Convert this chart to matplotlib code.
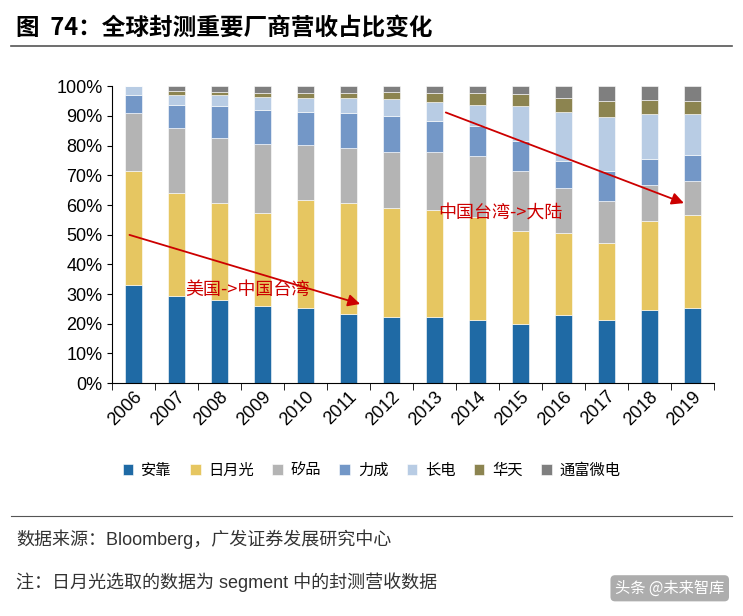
import matplotlib

matplotlib.use("Agg")
import matplotlib.pyplot as plt
from matplotlib.ticker import PercentFormatter
import numpy as np

plt.rcParams["font.family"] = ["Noto Sans CJK SC", "DejaVu Sans"]

YEARS = [str(y) for y in range(2006, 2020)]
COMPANIES = ["安靠", "日月光", "矽品", "力成", "长电", "华天", "通富微电"]
AMKOR = [32.9, 29.4, 28.1, 26.1, 25.3, 23.3, 22.4, 22.2, 21.3, 20.0, 23.0, 21.3, 24.7, 25.4]
ASE = [38.4, 34.6, 32.6, 31.2, 36.5, 37.4, 36.6, 36.2, 34.7, 31.1, 27.6, 25.9, 30.0, 31.2]
SPIL = [19.8, 22.0, 21.9, 23.3, 18.5, 18.5, 19.0, 19.6, 20.6, 20.2, 15.1, 14.0, 12.2, 11.6]
PTI = [5.9, 7.8, 10.7, 11.5, 11.0, 11.7, 11.9, 10.4, 9.9, 10.2, 9.0, 10.1, 8.7, 8.8]
JCET = [3.0, 3.4, 3.6, 4.3, 4.8, 5.2, 5.9, 6.2, 7.3, 11.8, 16.6, 18.3, 15.2, 13.6]
HUATIAN = [0, 1.1, 1.1, 1.4, 1.7, 1.7, 2.2, 3.2, 4.0, 4.2, 4.7, 5.3, 4.5, 4.5]
TFME = [0, 1.7, 2.0, 2.2, 2.2, 2.2, 2.0, 2.2, 2.2, 2.5, 4.0, 5.1, 4.7, 4.9]
COLORS = ["#1F6AA5", "#E6C661", "#B4B4B4", "#7397C7", "#B8CCE4", "#8C8450", "#7F7F7F"]

LATIN = ["Liberation Sans", "Noto Sans CJK SC"]

fig = plt.figure(figsize=(7.43, 6.16), dpi=100)
fig.text(0.022, 0.955, "图  74：全球封测重要厂商营收占比变化", fontsize=17, fontweight="bold", va="center")
fig.add_artist(plt.Line2D([0.015, 0.985], [0.925, 0.925], color="#555555", lw=1.2))
fig.add_artist(plt.Line2D([0.015, 0.985], [0.163, 0.163], color="#555555", lw=0.8))

ax = fig.add_axes([0.151, 0.378, 0.810, 0.482])
x = np.arange(len(YEARS))
bottom = np.zeros(len(YEARS))
for name, vals, color in zip(COMPANIES, [AMKOR, ASE, SPIL, PTI, JCET, HUATIAN, TFME], COLORS):
    vals = np.array(vals)
    ax.bar(x, vals, 0.4, bottom=bottom, color=color, label=name, edgecolor="white", linewidth=0.4)
    bottom += vals

ax.set_xlim(-0.5, len(YEARS) - 0.5)
ax.set_ylim(0, 100)
ax.set_yticks(range(0, 101, 10))
ax.yaxis.set_major_formatter(PercentFormatter(decimals=0))
ax.set_xticks(x)
ax.set_xticklabels(YEARS, rotation=45, ha="right", rotation_mode="anchor", fontsize=13, family="Liberation Sans")
ax.set_xticks(np.arange(-0.5, len(YEARS), 1), minor=True)
ax.tick_params(axis="x", which="major", length=0)
ax.tick_params(axis="x", which="minor", length=5)
ax.tick_params(axis="y", labelsize=13)
for lab in ax.get_yticklabels():
    lab.set_family("Liberation Sans")
for side in ("top", "right"):
    ax.spines[side].set_visible(False)

red = "#CC0000"
ax.annotate("", xy=(5.33, 26.4), xytext=(-0.16, 50.2),
            arrowprops=dict(arrowstyle="-|>", color=red, lw=1.3, mutation_scale=18))
ax.annotate("", xy=(12.86, 60.3), xytext=(7.2, 91.5),
            arrowprops=dict(arrowstyle="-|>", color=red, lw=1.3, mutation_scale=18))
ax.text(2.65, 31.5, "美国->中国台湾", color=red, fontsize=13, ha="center", va="center")
ax.text(8.53, 57.6, "中国台湾->大陆", color=red, fontsize=13, ha="center", va="center")

fig.legend(loc="center", bbox_to_anchor=(0.5, 0.237), ncol=7, frameon=False, fontsize=11,
           handlelength=0.7, handleheight=0.7, columnspacing=1.2, handletextpad=0.5)

fig.text(0.022, 0.125, "数据来源：Bloomberg，广发证券发展研究中心", fontsize=13, color="#333333",
         va="center", family=LATIN)
fig.text(0.022, 0.055, "注：日月光选取的数据为 segment 中的封测营收数据", fontsize=13, color="#333333",
         va="center", family=LATIN)
fig.text(0.975, 0.045, "头条 @未来智库", fontsize=11, color="white", ha="right", va="center",
         bbox=dict(boxstyle="round,pad=0.3", fc="#999999", ec="none", alpha=0.8))

fig.savefig("out.png", dpi=100)
